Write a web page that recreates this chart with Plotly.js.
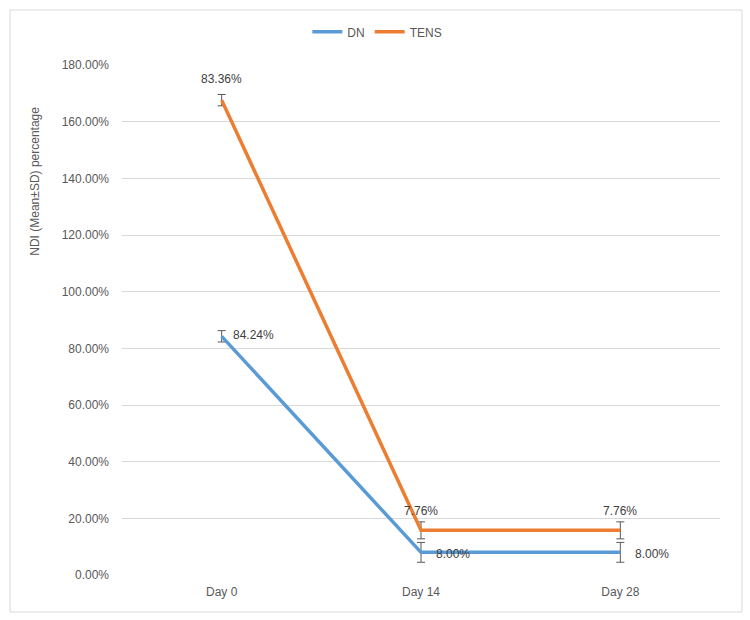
<!DOCTYPE html>
<html>
<head>
<meta charset="utf-8">
<script src="https://cdn.plot.ly/plotly-3.0.1.min.js"></script>
<style>html,body{margin:0;padding:0;background:#fff;}#chart{width:750px;height:620px;}</style>
</head>
<body>
<div id="chart"></div>
<script>
const categories = ["Day 0", "Day 14", "Day 28"];
const dnValues = [84.24, 8.00, 8.00];
const tensValues = [83.36, 7.76, 7.76];
const dnSD = [2.0, 3.5, 3.5];
const tensSD = [2.0, 3.0, 3.0];
const yTicks = [0, 20, 40, 60, 80, 100, 120, 140, 160, 180];
const yTitle = "NDI (Mean±SD) percentage";

// Stacked line chart: TENS is drawn on top of DN
const tensStacked = tensValues.map((v, i) => v + dnValues[i]);
const fmt = v => v.toFixed(2) + "%";

const font = "Liberation Sans, Arial, sans-serif";
const textCol = "#404040";
const axCol = "#595959";

const traces = [
  {
    x: categories, y: dnValues, name: "DN", type: "scatter", mode: "lines",
    line: {color: "#5B9BD5", width: 3.5},
    error_y: {type: "data", array: dnSD, visible: true, color: axCol, thickness: 1, width: 4}
  },
  {
    x: categories, y: tensStacked, name: "TENS", type: "scatter", mode: "lines",
    line: {color: "#ED7D31", width: 3.5},
    error_y: {type: "data", array: tensSD, visible: true, color: axCol, thickness: 1, width: 4}
  }
];

const annotations = [];
categories.forEach((c, i) => {
  annotations.push({x: c, y: dnValues[i], xref: "x", yref: "y", text: fmt(dnValues[i]),
    showarrow: false, xanchor: "left", yanchor: "middle", xshift: i === 0 ? 9 : 13, yshift: i === 0 ? 1 : -2,
    font: {family: font, size: 12, color: textCol}});
  annotations.push({x: c, y: tensStacked[i], xref: "x", yref: "y", text: fmt(tensValues[i]),
    showarrow: false, xanchor: "center", yanchor: "middle", yshift: i === 0 ? 21 : 19,
    font: {family: font, size: 12, color: textCol}});
});
annotations.push({x: -0.146, y: 0.7725, xref: "paper", yref: "paper", text: yTitle, textangle: -90,
  showarrow: false, xanchor: "center", yanchor: "middle",
  font: {family: font, size: 12, color: axCol}});

const layout = {
  width: 750, height: 620,
  margin: {l: 122, r: 30, t: 65, b: 45},
  paper_bgcolor: "#fff", plot_bgcolor: "#fff",
  font: {family: font, size: 12, color: axCol},
  showlegend: true,
  legend: {orientation: "h", x: 0.427, xanchor: "center", y: 1.065, yanchor: "middle",
           font: {family: font, size: 12, color: axCol}, traceorder: "normal"},
  xaxis: {
    type: "category", showgrid: false, zeroline: false, showline: false,
    ticks: "", ticklabelstandoff: 8, tickfont: {family: font, size: 12, color: axCol},
    range: [-0.5, 2.5]
  },
  yaxis: {
    range: [0, 180], tickvals: yTicks, ticktext: yTicks.map(fmt),
    showgrid: true, gridcolor: "#d9d9d9", gridwidth: 1, zeroline: false,
    showline: false, ticks: "", ticklen: 0, ticklabelstandoff: 12,
    tickfont: {family: font, size: 12, color: axCol}
  },
  annotations: annotations,
  shapes: [
    {type: "rect", xref: "paper", yref: "paper", x0: -0.1873, x1: 1.0368, y0: -0.0725, y1: 1.1078,
     line: {color: "#d9d9d9", width: 1}, fillcolor: "rgba(0,0,0,0)", layer: "below"}
  ]
};

Plotly.newPlot("chart", traces, layout, {displayModeBar: false, staticPlot: true});
</script>
</body>
</html>
